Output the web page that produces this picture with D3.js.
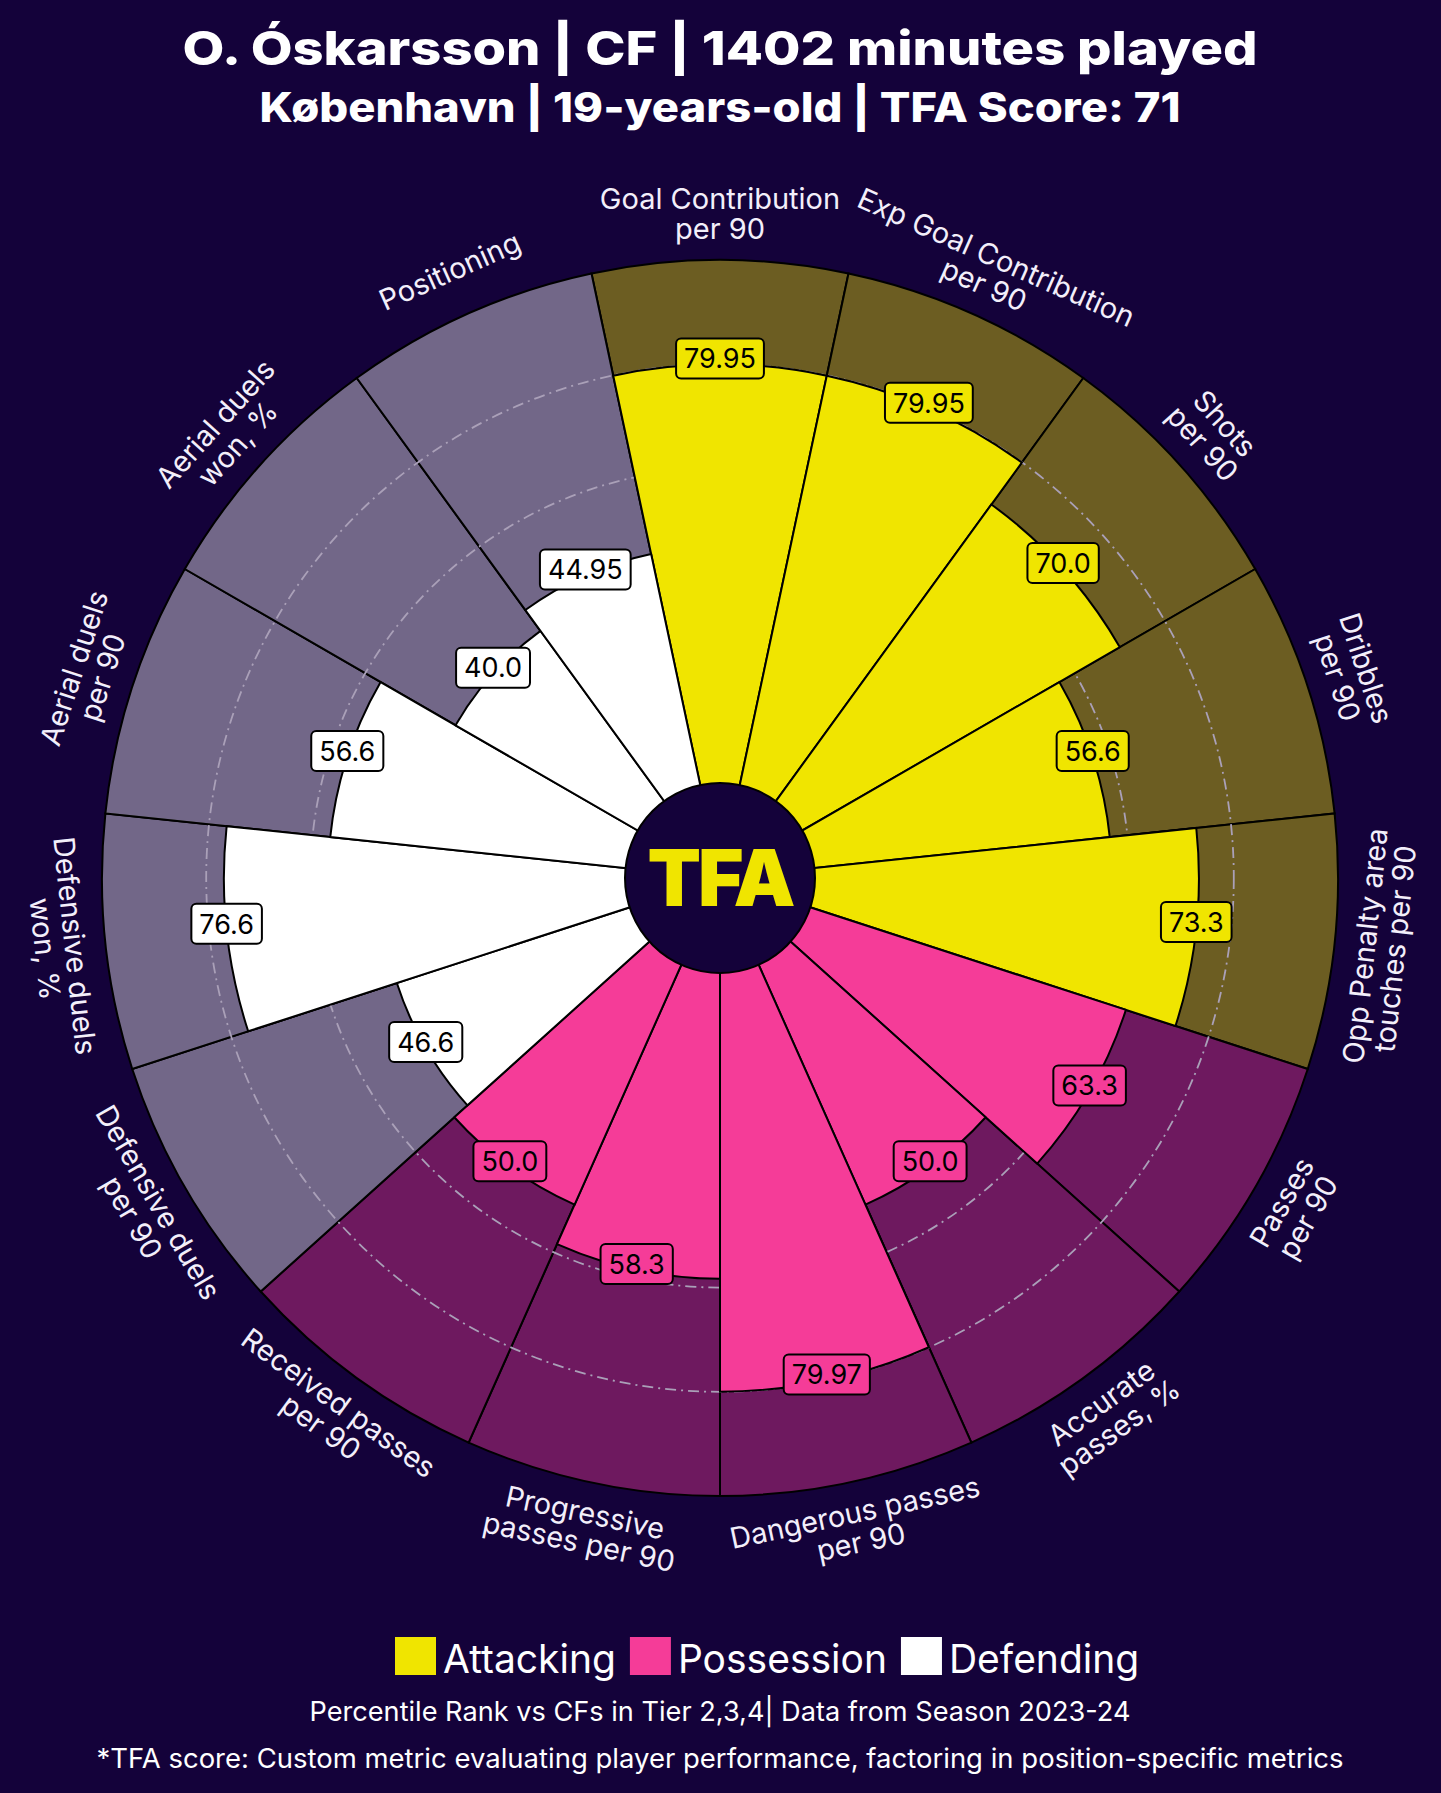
<!DOCTYPE html>
<html>
<head>
<meta charset="utf-8">
<script src="https://cdn.jsdelivr.net/npm/d3@7"></script>
<style>
  body { margin: 0; background: #14023a; }
  svg { display: block; }
</style>
</head>
<body>
<svg width="1441" height="1793"></svg>
<script>
// data, clockwise from the top
const params = [
  'Goal Contribution\nper 90',
  'Exp Goal Contribution\nper 90',
  'Shots\nper 90',
  'Dribbles\nper 90',
  'Opp Penalty area\ntouches per 90',
  'Passes\nper 90',
  'Accurate\npasses, %',
  'Dangerous passes\nper 90',
  'Progressive\npasses per 90',
  'Received passes\nper 90',
  'Defensive duels\nper 90',
  'Defensive duels\nwon, %',
  'Aerial duels\nper 90',
  'Aerial duels\nwon, %',
  'Positioning'
];
const values = [79.95, 79.95, 70.0, 56.6, 73.3, 63.3, 50.0, 79.97, 58.3, 50.0, 46.6, 76.6, 56.6, 40.0, 44.95];
const groups = [0, 0, 0, 0, 0, 1, 1, 1, 1, 1, 2, 2, 2, 2, 2];
const groupNames = ['Attacking', 'Possession', 'Defending'];
const gridTicks = [20, 40, 60, 80];

const title = 'O. Óskarsson | CF | 1402 minutes played';
const subtitle = 'København | 19-years-old | TFA Score: 71';
const note1 = 'Percentile Rank vs CFs in Tier 2,3,4| Data from Season 2023-24';
const note2 = '*TFA score: Custom metric evaluating player performance, factoring in position-specific metrics';

const groupColors = ['#f0e500', '#f53c98', '#ffffff'];
const bg = '#14023a';
const font = 'Inter, "Noto Sans", sans-serif';

const svg = d3.select('svg');
const cx = 720, cy = 878;
const n = params.length;
const step = 2 * Math.PI / n;

const angle = d3.scaleLinear().domain([0, n]).range([-step / 2, 2 * Math.PI - step / 2]);
const r = d3.scaleLinear().domain([0, 100]).range([97, 618]);

const g = svg.append('g').attr('transform', `translate(${cx},${cy})`);
const arc = d3.arc()
  .innerRadius(0)
  .startAngle((d, i) => angle(i))
  .endAngle((d, i) => angle(i + 1));

// background slices
g.append('g')
  .selectAll('path')
  .data(values)
  .join('path')
  .attr('d', (d, i) => arc.outerRadius(r(100))(d, i))
  .attr('fill', (d, i) => groupColors[groups[i]])
  .attr('fill-opacity', 0.4)
  .attr('stroke', '#000')
  .attr('stroke-width', 2);

// grid circles
g.append('g')
  .selectAll('circle')
  .data(gridTicks)
  .join('circle')
  .attr('r', d => r(d))
  .attr('fill', 'none')
  .attr('stroke', '#aaa0b8')
  .attr('stroke-width', 1.8)
  .attr('stroke-dasharray', '11,5,2,5');

// value slices
g.append('g')
  .selectAll('path')
  .data(values)
  .join('path')
  .attr('d', (d, i) => arc.outerRadius(r(d))(d, i))
  .attr('fill', (d, i) => groupColors[groups[i]])
  .attr('stroke', '#000')
  .attr('stroke-width', 2);

// centre circle + logo
g.append('circle')
  .attr('r', 95)
  .attr('fill', bg)
  .attr('stroke', '#000')
  .attr('stroke-width', 2);
g.append('text')
  .attr('text-anchor', 'middle')
  .attr('y', 28)
  .attr('fill', groupColors[0])
  .style('font-family', font)
  .style('font-weight', 900)
  .style('font-size', '78px')
  .style('letter-spacing', '-3px')
  .text('TFA');

const pos = (i, rad) => {
  const a = i * step;
  return [rad * Math.sin(a), -rad * Math.cos(a)];
};

// value labels
const fmt = v => (Math.round(v * 10) === v * 10 ? v.toFixed(1) : v.toFixed(2));
const vl = g.append('g')
  .selectAll('g')
  .data(values)
  .join('g')
  .attr('transform', (d, i) => {
    const [x, y] = pos(i, r(d));
    return `translate(${x},${y - 6})`;
  });
vl.append('text')
  .attr('text-anchor', 'middle')
  .attr('dy', '0.36em')
  .attr('fill', '#000')
  .style('font-family', font)
  .style('font-size', '27px')
  .text(d => fmt(d));
vl.each(function (d, i) {
  const sel = d3.select(this);
  const bb = sel.select('text').node().getBBox();
  sel.insert('rect', 'text')
    .attr('x', bb.x - 8)
    .attr('y', -20)
    .attr('width', bb.width + 16)
    .attr('height', 40)
    .attr('rx', 5)
    .attr('fill', groupColors[groups[i]])
    .attr('stroke', '#000')
    .attr('stroke-width', 2);
});

// parameter labels
const lh = 30;
g.append('g')
  .selectAll('text')
  .data(params)
  .join('text')
  .attr('transform', (d, i) => {
    const [x, y] = pos(i, 664);
    let deg = i * 360 / n;
    if (deg > 90 && deg < 270) deg -= 180;
    return `translate(${x},${y}) rotate(${deg})`;
  })
  .attr('text-anchor', 'middle')
  .attr('fill', '#f3effa')
  .style('font-family', font)
  .style('font-size', '29px')
  .each(function (d) {
    const lines = d.split('\n');
    d3.select(this).selectAll('tspan')
      .data(lines)
      .join('tspan')
      .attr('x', 0)
      .attr('y', (l, k) => (k - (lines.length - 1) / 2) * lh + 10)
      .text(l => l);
  });

// titles
function headline(txt, y, size, weight, width) {
  svg.append('text')
    .attr('x', 720).attr('y', y)
    .attr('text-anchor', 'middle')
    .attr('fill', '#fff')
    .attr('textLength', width)
    .attr('lengthAdjust', 'spacingAndGlyphs')
    .style('font-family', font)
    .style('font-weight', weight)
    .style('font-size', size + 'px')
    .text(txt);
}
headline(title, 65, 47, 800, 1075);
headline(subtitle, 122, 41, 800, 921);

// legend
let lx = 395;
groupNames.forEach((name, k) => {
  svg.append('rect')
    .attr('x', lx).attr('y', 1637)
    .attr('width', 41).attr('height', 38)
    .attr('fill', groupColors[k]);
  const t = svg.append('text')
    .attr('x', lx + 48).attr('y', 1673)
    .attr('fill', '#fff')
    .style('font-family', font)
    .style('font-size', '39px')
    .text(name);
  lx += 48 + t.node().getComputedTextLength() + 14;
});

headline(note1, 1721, 27, 400, 821);
headline(note2, 1768, 27, 400, 1247);
</script>
</body>
</html>
